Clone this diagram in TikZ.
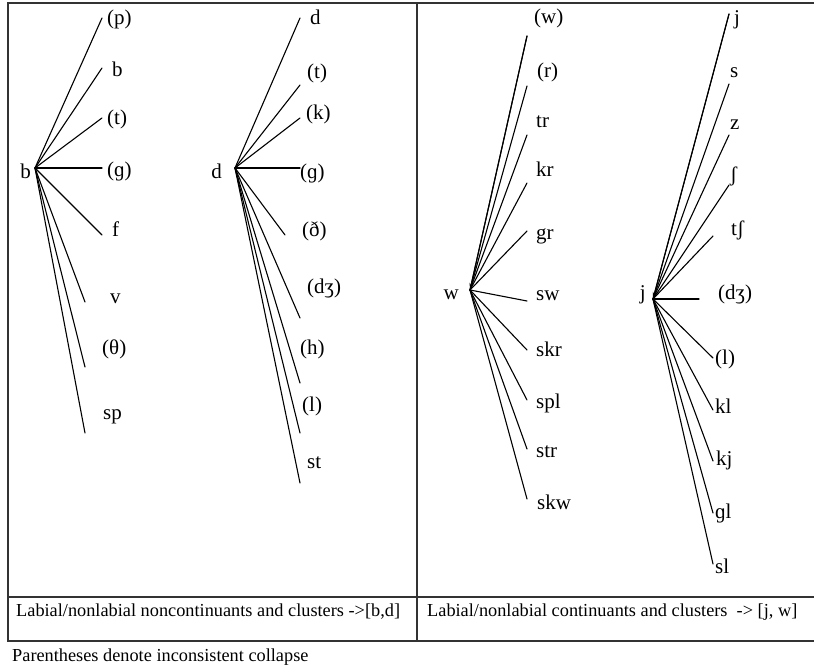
\documentclass[tikz,border=0pt]{standalone}
\usepackage{fontspec}
\setmainfont{Liberation Serif}
\usetikzlibrary{arrows.meta}
\begin{document}
\begin{tikzpicture}[x=1pt,y=-1pt,
  lbl/.style={anchor=west,inner sep=0pt,font=\fontsize{21}{21}\selectfont,text height=0.7em,text depth=0.2em,yshift=-4pt},
  hubl/.style={anchor=east,inner sep=0pt,font=\fontsize{21}{21}\selectfont,text height=0.7em,text depth=0.2em,yshift=-4pt},
  edge/.style={line width=1.1pt,line cap=round},
  tipedge/.style={edge,{Stealth[length=7pt,width=4pt]}-},
  frame/.style={line width=1.3pt,draw=black!80},
  captext/.style={anchor=west,inner sep=0pt,font=\fontsize{18.3}{18.3}\selectfont,text height=0.7em,text depth=0.2em,yshift=-3pt}]
\useasboundingbox (0,0) rectangle (814,668);
% frame
\draw[frame] (814,3) -- (8,3) -- (8,641) -- (814,641);
\draw[frame] (8,597) -- (814,597);
\draw[frame] (417,3) -- (417,641);
% b group
\coordinate (hb) at (35,168);
\node[hubl] (Lb) at (31,172) {b};
\foreach \ex/\ey/\lx/\ly/\t [count=\i] in {102/18/107/18/{(p)},102/68/112/70/{b},102/118/107/118/{(t)},102/168/107/170/{(ɡ)},102/235/112/230/{f},85/302/110/297/{v},85/367/102/348/{(θ)},85/433/103/413/{sp}}{
  \coordinate (b-e\i) at (\ex,\ey);
  \node[lbl] (b-l\i) at (\lx,\ly) {\t};
  \draw[edge] (hb) -- (b-e\i);
}
% d group
\coordinate (hd) at (235,168);
\node[hubl] (Ld) at (222,172) {d};
\foreach \ex/\ey/\lx/\ly/\t [count=\i] in {300/18/310/18/{d},300/85/307/72/{(t)},300/118/306/113/{(k)},300/168/300/172/{(ɡ)},285/235/302/230/{(ð)},300/318/307/287/{(dʒ)},300/383/300/348/{(h)},300/433/302/405/{(l)},300/483/307/462/{st}}{
  \coordinate (d-e\i) at (\ex,\ey);
  \node[lbl] (d-l\i) at (\lx,\ly) {\t};
  \draw[edge] (hd) -- (d-e\i);
}
% w group
\coordinate (hw) at (470,290);
\node[hubl] (Lw) at (459,293) {w};
\foreach \ex/\ey/\lx/\ly/\t [count=\i] in {527/36/534/17/{(w)},527/86/537/71/{(r)},527/135/536/121/{tr},527/183/536/170/{kr},527/231/536/233/{gr},527/301/536/294/{sw},527/350/536/350/{skr},527/400/536/402/{spl},527/449/536/451/{str},527/499/537/503/{skw}}{
  \coordinate (w-e\i) at (\ex,\ey);
  \node[lbl] (w-l\i) at (\lx,\ly) {\t};
  \draw[edge] (hw) -- (w-e\i);
}
\draw[tipedge] (hw) -- (w-e1);
% j group
\coordinate (hj) at (653,299);
\node[hubl] (Lj) at (646,293) {j};
\foreach \ex/\ey/\lx/\ly/\t [count=\i] in {729/14/734/18/{j},729/84/730/71/{s},729/135/730/123/{z},729/185/730/175/{ʃ},713/236/731/229/{tʃ},699/299/718/293/{(dʒ)},713/358/715/358/{(l)},713/410/715/407/{kl},713/461/716/459/{kj},713/513/715/512/{ɡl},713/564/715/567/{sl}}{
  \coordinate (j-e\i) at (\ex,\ey);
  \node[lbl] (j-l\i) at (\lx,\ly) {\t};
  \draw[edge] (hj) -- (j-e\i);
}
\draw[tipedge] (hj) -- (j-e1);
% captions
\node[captext] (c1) at (16,611) {Labial/nonlabial noncontinuants and clusters ->[b,d]};
\node[captext] (c2) at (427,611) {Labial/nonlabial continuants and clusters~ -> [j, w]};
\node[captext] (c3) at (12,656) {Parentheses denote inconsistent collapse};
\end{tikzpicture}
\end{document}
